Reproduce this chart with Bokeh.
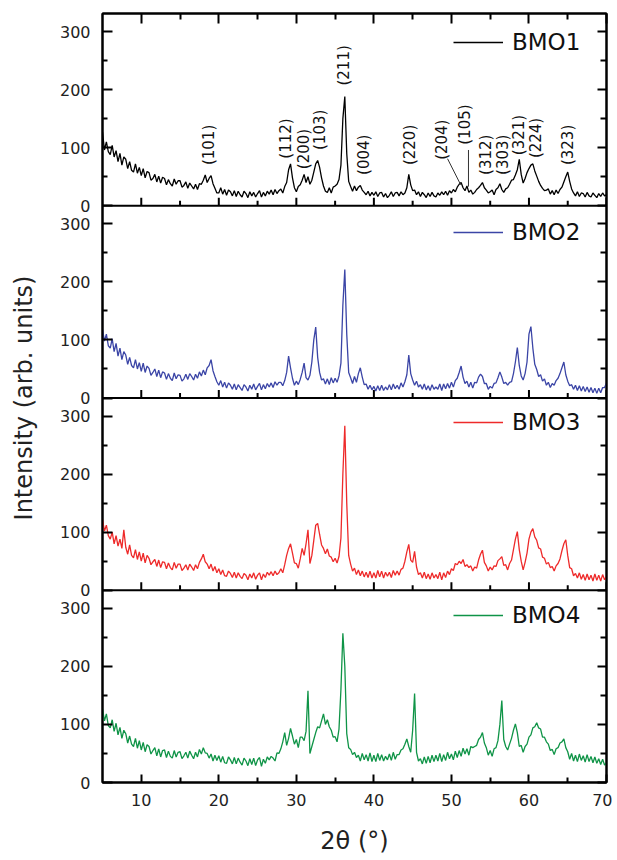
import numpy as np
from bokeh.plotting import figure
from bokeh.models import Range1d, LinearAxis, FixedTicker, Span, Legend, LegendItem
from bokeh.core.properties import value
from bokeh.embed import file_html
from bokeh.resources import INLINE

# ---------------- data (2θ from 5° to 70° in 0.25° steps) ----------------
TWO_THETA_START = 5.0
TWO_THETA_STEP = 0.25

BMO1 = [
    127, 96, 110, 93,  88, 104, 84, 95,  76, 90, 70, 84,  80, 64, 76, 61,  58, 72, 56, 66,      # 5-9
    52, 64, 48, 59,  57, 44, 47, 54,  41, 51, 39, 49,  47, 36, 45, 38,  34, 46, 37, 43,         # 10-14
    43, 32, 35, 41,  30, 39, 34, 29,  37, 28, 38, 37,  44, 53, 40, 47,  52, 38, 30, 22,         # 15-19
    22, 31, 20, 28,  18, 27, 24, 17,  26, 16, 25, 19,  15, 25, 21, 14,  24, 17, 23, 15,         # 20-24
    21, 26, 15, 23,  17, 25, 20, 27,  19, 28, 21, 26,  29, 22, 33, 40,  62, 72, 48, 31,         # 25-29
    24, 33, 36, 44,  54, 40, 50, 37,  44, 58, 72, 78,  66, 48, 34, 25,  23, 31, 22, 32,         # 30-34
    34, 37, 45, 70,  150, 188, 90, 42,  33, 25, 34, 26,  32, 35, 27, 23,  19, 25, 17, 23,       # 35-39
    18, 24, 16, 22,  23, 15, 21, 14,  18, 24, 16, 22,  23, 17, 24, 19,  22, 31, 54, 36,         # 40-44
    26, 27, 19, 24,  16, 23, 19, 14,  22, 16, 23, 17,  15, 22, 18, 24,  19, 25, 18, 26,         # 45-49
    22, 28, 24, 32,  37, 40, 31, 26,  34, 23, 27, 20,  23, 28, 31, 35,  40, 31, 27, 22,         # 50-54
    24, 27, 19, 28,  31, 38, 28, 23,  29, 31, 37, 44,  45, 53, 62, 80,  54, 39, 47, 57,         # 55-59
    64, 70, 72, 60,  51, 42, 35, 30,  26, 27, 29, 20,  26, 19, 27, 21,  28, 32, 41, 50,         # 60-64
    58, 42, 29, 22,  17, 24, 16, 22,  21, 15, 23, 17,  15, 22, 18, 14,  21, 16, 22, 17,         # 65-69
    19,
]

BMO2 = [
    118, 98, 110, 90,  86, 102, 80, 94,  72, 86, 66, 80,  74, 58, 70, 56,  52, 66, 50, 61,      # 5-9
    46, 60, 44, 55,  51, 39, 44, 50,  37, 48, 35, 45,  43, 32, 42, 34,  30, 43, 33, 40,         # 10-14
    39, 29, 33, 41,  32, 42, 37, 31,  41, 34, 45, 38,  48, 40, 52, 56,  66, 47, 37, 28,         # 15-19
    22, 30, 19, 27,  17, 26, 22, 15,  24, 14, 23, 18,  13, 23, 19, 12,  22, 15, 24, 14,         # 20-24
    20, 25, 14, 23,  16, 25, 19, 26,  18, 28, 22, 27,  27, 21, 30, 44,  72, 52, 34, 22,         # 25-29
    29, 23, 32, 44,  60, 35, 31, 39,  62, 100, 122, 70,  44, 31, 33, 24,  33, 23, 35, 26,       # 30-34
    34, 27, 38, 60,  160, 221, 110, 44,  35, 25, 37, 27,  42, 52, 36, 23,  24, 15, 22, 14,      # 35-39
    20, 12, 21, 13,  22, 13, 19, 14,  23, 14, 24, 16,  22, 15, 26, 19,  28, 40, 74, 42,         # 40-44
    31, 22, 29, 19,  23, 15, 24, 14,  21, 13, 23, 15,  19, 15, 24, 13,  24, 16, 25, 17,         # 45-49
    27, 19, 30, 34,  44, 55, 36, 25,  29, 19, 27, 17,  27, 26, 36, 41,  37, 25, 25, 15,         # 50-54
    20, 17, 25, 26,  35, 45, 36, 25,  27, 22, 27, 28,  42, 62, 87, 56,  38, 31, 42, 62,         # 55-59
    110, 123, 86, 58,  49, 37, 40, 29,  33, 22, 27, 18,  25, 22, 30, 34,  42, 52, 62, 40,       # 60-64
    29, 21, 23, 15,  22, 13, 21, 12,  20, 11, 19, 10,  18, 9, 17, 8,  17, 9, 18, 18,            # 65-69
    26,
]

BMO3 = [
    122, 102, 112, 94,  88, 100, 80, 94,  76, 88, 72, 104,  74, 62, 78, 60,  56, 70, 53, 66,    # 5-9
    50, 64, 47, 60,  55, 44, 49, 53,  41, 52, 39, 49,  48, 37, 47, 39,  35, 48, 38, 45,         # 10-14
    45, 34, 38, 44,  35, 45, 40, 34,  44, 37, 48, 54,  62, 49, 45, 37,  45, 33, 41, 30,         # 15-19
    37, 27, 35, 25,  24, 33, 29, 22,  31, 21, 30, 24,  20, 29, 26, 18,  28, 21, 30, 19,         # 20-24
    26, 30, 18, 28,  22, 31, 26, 32,  25, 33, 27, 30,  37, 30, 44, 60,  72, 80, 64, 47,         # 25-29
    46, 38, 54, 72,  60, 80, 104, 46,  60, 86, 112, 115,  96, 78, 72, 63,  71, 59, 57, 49,      # 30-34
    55, 47, 58, 90,  200, 283, 150, 60,  45, 33, 38, 27,  35, 25, 33, 23,  31, 22, 33, 21,      # 35-39
    30, 21, 34, 23,  33, 21, 31, 24,  31, 22, 34, 26,  33, 26, 36, 38,  50, 66, 79, 52,         # 40-44
    48, 67, 40, 27,  30, 21, 31, 20,  28, 19, 30, 21,  27, 20, 31, 18,  30, 22, 33, 27,         # 45-49
    37, 34, 46, 44,  50, 46, 53, 41,  44, 39, 42, 33,  40, 38, 52, 62,  69, 48, 42, 33,         # 50-54
    40, 35, 42, 41,  51, 54, 58, 43,  44, 35, 46, 52,  70, 88, 101, 70,  50, 35, 48, 64,        # 55-59
    88, 100, 106, 92,  86, 73, 71, 57,  55, 45, 48, 39,  41, 33, 42, 46,  54, 68, 80, 87,       # 60-64
    60, 39, 37, 25,  29, 21, 30, 19,  27, 17, 28, 18,  26, 16, 28, 17,  26, 16, 27, 18,         # 65-69
    24,
]

BMO4 = [
    127, 106, 118, 98,  94, 108, 88, 102,  82, 95, 76, 90,  84, 68, 80, 66,  62, 76, 59, 72,    # 5-9
    56, 69, 53, 65,  62, 49, 55, 60,  46, 58, 44, 55,  56, 43, 54, 45,  42, 55, 44, 52,         # 10-14
    53, 41, 46, 52,  42, 54, 47, 41,  52, 44, 57, 49,  60, 51, 50, 42,  49, 37, 47, 38,         # 15-19
    46, 35, 45, 34,  33, 44, 39, 32,  43, 32, 42, 35,  30, 42, 37, 29,  41, 31, 42, 29,         # 20-24
    39, 43, 28, 40,  33, 44, 39, 45,  42, 37, 51, 50,  58, 70, 86, 64,  76, 93, 80, 66,         # 25-29
    74, 60, 78, 78,  72, 88, 158, 50,  62, 74, 86, 96,  94, 106, 118, 100,  108, 96, 90, 78,    # 30-34
    79, 70, 92, 160,  257, 200, 84, 60,  57, 48, 52, 43,  47, 37, 50, 39,  48, 37, 51, 36,      # 35-39
    47, 36, 50, 38,  48, 37, 45, 39,  49, 38, 52, 40,  48, 48, 56, 58,  66, 75, 62, 52,         # 40-44
    90, 153, 52, 37,  41, 32, 44, 33,  45, 34, 47, 36,  47, 37, 50, 36,  48, 38, 52, 41,        # 45-49
    49, 39, 54, 43,  55, 45, 59, 49,  58, 47, 62, 60,  62, 64, 74, 78,  86, 68, 60, 47,         # 50-54
    55, 45, 58, 60,  72, 100, 141, 74,  62, 56, 66, 76,  90, 101, 86, 62,  64, 52, 62, 66,      # 55-59
    78, 82, 94, 96,  103, 94, 92, 78,  78, 70, 66, 55,  57, 48, 58, 60,  68, 70, 75, 60,        # 60-64
    53, 40, 50, 37,  47, 36, 49, 38,  46, 35, 48, 36,  45, 34, 44, 33,  41, 31, 40, 30,         # 65-69
    34,
]

SERIES = [BMO1, BMO2, BMO3, BMO4]
SERIES_NAMES = ["BMO1", "BMO2", "BMO3", "BMO4"]
SERIES_COLORS = ["#000000", "#3b45a6", "#ee2a2a", "#0f9447"]

PANEL_SPAN = 331                      # intensity units shown per panel
Y_TICKS = [0, 100, 200, 300]
Y_MINOR = [50, 150, 250]
X_TICKS = [10, 20, 30, 40, 50, 60, 70]
X_MINOR = [15, 25, 35, 45, 55, 65]

PEAK_LABELS = ["(101)", "(112)", "(200)", "(103)", "(211)", "(004)", "(220)",
               "(204)", "(105)", "(312)", "(303)", "(321)", "(224)", "(323)"]
PEAK_X = [18.7, 28.7, 31.0, 33.1, 36.1, 38.7, 44.7, 48.8, 51.8, 54.4, 56.6, 58.7, 60.9, 65.0]
PEAK_Y = [70, 81, 63, 96, 207, 53, 70, 79, 105, 53, 53, 87, 82, 70]
LEADER_X0 = [49.5, 52.2]
LEADER_Y0 = [81, 96]
LEADER_X1 = [51.2, 52.2]
LEADER_Y1 = [36, 33]

# ---------------- figure ----------------
FONT = "DejaVu Sans"
FRAME_H = 769
LEGEND_RISE = [163, 165, 168, 167]    # px above each panel's baseline
n_panels = len(SERIES)
y_top = n_panels * PANEL_SPAN
px_per_unit = FRAME_H / y_top

two_theta = TWO_THETA_START + TWO_THETA_STEP * np.arange(len(BMO1))

p = figure(width=612, height=860, x_range=Range1d(5, 70), y_range=Range1d(0, y_top),
           output_backend="svg", toolbar_location=None,
           min_border_left=102, min_border_right=6, min_border_top=13, min_border_bottom=78)
p.grid.visible = False
p.outline_line_color = "black"
p.outline_line_width = 2
p.background_fill_color = "white"
p.border_fill_color = "white"

y_major, y_minor, y_over = [], [], {}
for k in range(n_panels):
    for t in Y_TICKS:
        y_major.append(k * PANEL_SPAN + t)
        y_over[k * PANEL_SPAN + t] = str(t)
    for t in Y_MINOR:
        y_minor.append(k * PANEL_SPAN + t)

def style_axis(ax, major_in, minor_in):
    ax.axis_line_width = 2
    ax.axis_line_color = "black"
    ax.major_tick_in = major_in
    ax.major_tick_out = 0
    ax.minor_tick_in = minor_in
    ax.minor_tick_out = 0
    ax.major_tick_line_width = 2
    ax.minor_tick_line_width = 2
    ax.major_tick_line_color = "black"
    ax.minor_tick_line_color = "black"
    ax.major_label_text_font = FONT
    ax.major_label_text_font_size = "16px"
    ax.major_label_text_color = "#222222"
    ax.axis_label_text_font = FONT
    ax.axis_label_text_font_style = "normal"
    ax.axis_label_text_color = "#222222"

def hide_labels(ax):
    ax.major_label_text_color = None
    ax.major_label_text_font_size = "1px"
    ax.major_label_standoff = 0

left = p.yaxis[0]
left.ticker = FixedTicker(ticks=y_major, minor_ticks=y_minor)
left.major_label_overrides = y_over
style_axis(left, 10, 5)
left.major_label_standoff = 12
left.axis_label = "Intensity (arb. units)"
left.axis_label_text_font_size = "24px"
left.axis_label_standoff = 19

bottom = p.xaxis[0]
bottom.ticker = FixedTicker(ticks=X_TICKS, minor_ticks=X_MINOR)
style_axis(bottom, 8, 5)
bottom.major_label_standoff = 11
bottom.axis_label = "2θ (°)"
bottom.axis_label_text_font_size = "24px"
bottom.axis_label_standoff = 18

right = LinearAxis(ticker=FixedTicker(ticks=y_major, minor_ticks=y_minor))
style_axis(right, 9, 6)
hide_labels(right)
p.add_layout(right, "right")

top = LinearAxis(ticker=FixedTicker(ticks=X_TICKS, minor_ticks=X_MINOR))
style_axis(top, 10, 6)
hide_labels(top)
p.add_layout(top, "above")

# panel separators with inward (upward) ticks
for k in range(1, n_panels):
    p.add_layout(Span(location=k * PANEL_SPAN, dimension="width",
                      line_color="black", line_width=2))
tick_x0, tick_y0, tick_y1 = [], [], []
for k in range(1, n_panels):
    base = k * PANEL_SPAN
    for t in X_TICKS:
        tick_x0.append(t); tick_y0.append(base); tick_y1.append(base + 8 / px_per_unit)
    for t in X_MINOR:
        tick_x0.append(t); tick_y0.append(base); tick_y1.append(base + 5 / px_per_unit)
p.segment(x0=tick_x0, y0=tick_y0, x1=tick_x0, y1=tick_y1, line_color="black", line_width=2)

# curves (top panel = BMO1)
for i, (vals, name, col) in enumerate(zip(SERIES, SERIES_NAMES, SERIES_COLORS)):
    k = n_panels - 1 - i
    offset = k * PANEL_SPAN
    r = p.line(two_theta, np.asarray(vals, dtype=float) + offset, line_color=col, line_width=1.3)
    leg_center = k * FRAME_H / n_panels + LEGEND_RISE[i]
    legend = Legend(items=[LegendItem(label=name, renderers=[r])],
                    location=(351, int(round(leg_center - 14))),
                    border_line_color=None, background_fill_alpha=0,
                    padding=0, margin=0, spacing=0,
                    glyph_width=50, glyph_height=28, label_height=28,
                    label_standoff=9,
                    label_text_font=FONT, label_text_font_size="23px",
                    label_text_color="#111111")
    p.add_layout(legend)

# Miller-index annotations for BMO1
top_off = (n_panels - 1) * PANEL_SPAN
p.text(x=PEAK_X, y=[top_off + v for v in PEAK_Y], text=PEAK_LABELS,
       angle=np.pi / 2, text_align="left", text_baseline="middle",
       text_font=value(FONT), text_font_size=value("15px"), text_color="#111111")
p.segment(x0=LEADER_X0, y0=[top_off + v for v in LEADER_Y0],
          x1=LEADER_X1, y1=[top_off + v for v in LEADER_Y1],
          line_color="#333333", line_width=1)

open("out.html", "w").write(file_html(p, INLINE))
